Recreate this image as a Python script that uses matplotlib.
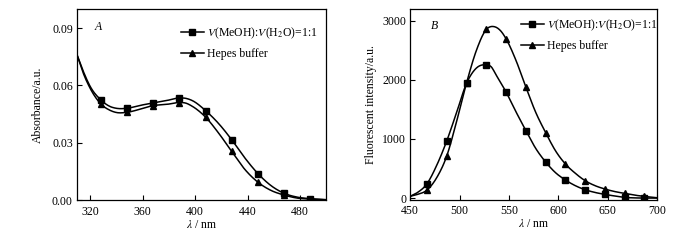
import numpy as np
import matplotlib
matplotlib.use("Agg")
import matplotlib.pyplot as plt

plt.rcParams['font.family'] = ['Liberation Serif', 'DejaVu Serif']
plt.rcParams['mathtext.fontset'] = 'stix'
plt.rcParams['font.size'] = 8.5

# Panel A: absorbance
a_mark_x = [328, 348, 368, 388, 408, 428, 448, 468, 488]
a_meoh_mark = [0.0525, 0.048, 0.0508, 0.0534, 0.0468, 0.0315, 0.0138, 0.0035, 0.0007]
a_hepes_mark = [0.0504, 0.0459, 0.0494, 0.051, 0.0434, 0.0254, 0.0093, 0.0026, 0.0005]

a_line_x = [310, 315, 320, 328, 335, 340, 348, 358, 368, 378, 388, 393, 398, 408,
            418, 428, 438, 448, 458, 468, 478, 488, 500]
a_meoh_line = [0.076, 0.067, 0.0595, 0.0525, 0.049, 0.048, 0.048, 0.0495, 0.0508, 0.052,
               0.0534, 0.0532, 0.052, 0.0468, 0.040, 0.0315, 0.022, 0.0138, 0.0075,
               0.0035, 0.0015, 0.0007, 0.0002]
a_hepes_line = [0.076, 0.066, 0.0585, 0.0504, 0.047, 0.0458, 0.0459, 0.0475, 0.0494, 0.050,
                0.051, 0.0507, 0.049, 0.0434, 0.035, 0.0254, 0.016, 0.0093, 0.005,
                0.0026, 0.001, 0.0005, 0.0001]

# Panel B: fluorescence
b_mark_x = [467, 487, 507, 527, 547, 567, 587, 607, 627, 647, 667, 687]
b_meoh_mark = [243, 968, 1941, 2252, 1794, 1143, 611, 306, 141, 62, 11, 0]
b_hepes_mark = [136, 713, 1947, 2852, 2694, 1879, 1109, 577, 294, 153, 79, 28]

b_meoh_lx = [450, 457, 467, 477, 487, 497, 507, 517, 527, 532, 537, 547, 557, 567,
             577, 587, 597, 607, 617, 627, 637, 647, 657, 667, 677, 687, 700]
b_meoh_line = [30, 90, 243, 560, 968, 1450, 1941, 2200, 2252, 2220, 2080, 1794, 1460,
               1143, 840, 611, 430, 306, 210, 141, 95, 62, 35, 11, 3, 0, 0]
b_hepes_lx = [450, 457, 467, 477, 487, 497, 507, 517, 527, 535, 542, 547, 557, 567,
              577, 587, 597, 607, 617, 627, 637, 647, 657, 667, 677, 687, 700]
b_hepes_line = [30, 60, 136, 350, 713, 1300, 1947, 2500, 2852, 2900, 2820, 2694, 2330,
                1879, 1450, 1109, 800, 577, 420, 294, 210, 153, 110, 79, 50, 28, 5]

lab1 = r'$V$(MeOH):$V$(H$_2$O)=1:1'
lab2 = 'Hepes buffer'

fig = plt.figure(figsize=(7, 2.41), dpi=100)
axA = fig.add_axes([0.110, 0.170, 0.356, 0.793])
axB = fig.add_axes([0.586, 0.172, 0.353, 0.791])


def smooth(x, y):
    # cubic Hermite curve through the read points, for drawing only
    x = np.asarray(x, float)
    y = np.asarray(y, float)
    xs = np.linspace(x[0], x[-1], 300)
    m = np.gradient(y, x)
    out = np.empty_like(xs)
    for i, xv in enumerate(xs):
        k = min(np.searchsorted(x, xv, side='right') - 1, len(x) - 2)
        h = x[k + 1] - x[k]
        t = (xv - x[k]) / h
        h00 = 2 * t**3 - 3 * t**2 + 1
        h10 = t**3 - 2 * t**2 + t
        h01 = -2 * t**3 + 3 * t**2
        h11 = t**3 - t**2
        out[i] = h00 * y[k] + h10 * h * m[k] + h01 * y[k + 1] + h11 * h * m[k + 1]
    return xs, out


for ax in (axA, axB):
    ax.tick_params(direction='in', length=3.5, width=0.8, labelsize=8.5, pad=3)
    ax.tick_params(axis='x', pad=4)
    for s in ax.spines.values():
        s.set_linewidth(0.9)

leg_kw = dict(loc='upper left', frameon=False, handlelength=1.9,
              handletextpad=0.3, labelspacing=0.6, borderpad=0)

# A
xs, ys = smooth(a_line_x, a_meoh_line)
axA.plot(xs, ys, color='black', lw=1.1)
xs, ys = smooth(a_line_x, a_hepes_line)
axA.plot(xs, ys, color='black', lw=1.1)
axA.plot(a_mark_x, a_meoh_mark, 's', color='black', ms=4)
axA.plot(a_mark_x, a_hepes_mark, '^', color='black', ms=4.5)
axA.plot([], [], 's-', color='black', ms=4, lw=1.1, label=lab1)
axA.plot([], [], '^-', color='black', ms=4.5, lw=1.1, label=lab2)
axA.set_xlim(310, 500)
axA.set_ylim(0, 0.1)
axA.set_xticks([320, 360, 400, 440, 480])
axA.set_yticks([0, 0.03, 0.06, 0.09])
axA.set_yticklabels(['0.00', '0.03', '0.06', '0.09'])
axA.set_xlabel(r'$\lambda$ / nm', labelpad=1)
axA.set_ylabel('Absorbance/a.u.', labelpad=6)
axA.text(0.072, 0.89, 'A', transform=axA.transAxes, style='italic', fontsize=8.5)
axA.legend(bbox_to_anchor=(0.394, 0.945), **leg_kw)

# B
xs, ys = smooth(b_meoh_lx, b_meoh_line)
axB.plot(xs, ys, color='black', lw=1.1)
xs, ys = smooth(b_hepes_lx, b_hepes_line)
axB.plot(xs, ys, color='black', lw=1.1)
axB.plot(b_mark_x, b_meoh_mark, 's', color='black', ms=4)
axB.plot(b_mark_x, b_hepes_mark, '^', color='black', ms=4.5)
axB.plot([], [], 's-', color='black', ms=4, lw=1.1, label=lab1)
axB.plot([], [], '^-', color='black', ms=4.5, lw=1.1, label=lab2)
axB.set_xlim(450, 700)
axB.set_ylim(-25, 3200)
axB.set_xticks([450, 500, 550, 600, 650, 700])
axB.set_yticks([0, 1000, 2000, 3000])
axB.set_xlabel(r'$\lambda$ / nm', labelpad=1)
axB.set_ylabel('Fluorescent intensity/a.u.', labelpad=4)
axB.text(0.085, 0.897, 'B', transform=axB.transAxes, style='italic', fontsize=8.5)
axB.legend(bbox_to_anchor=(0.425, 0.985), **leg_kw)

fig.savefig('out.png', dpi=100)
